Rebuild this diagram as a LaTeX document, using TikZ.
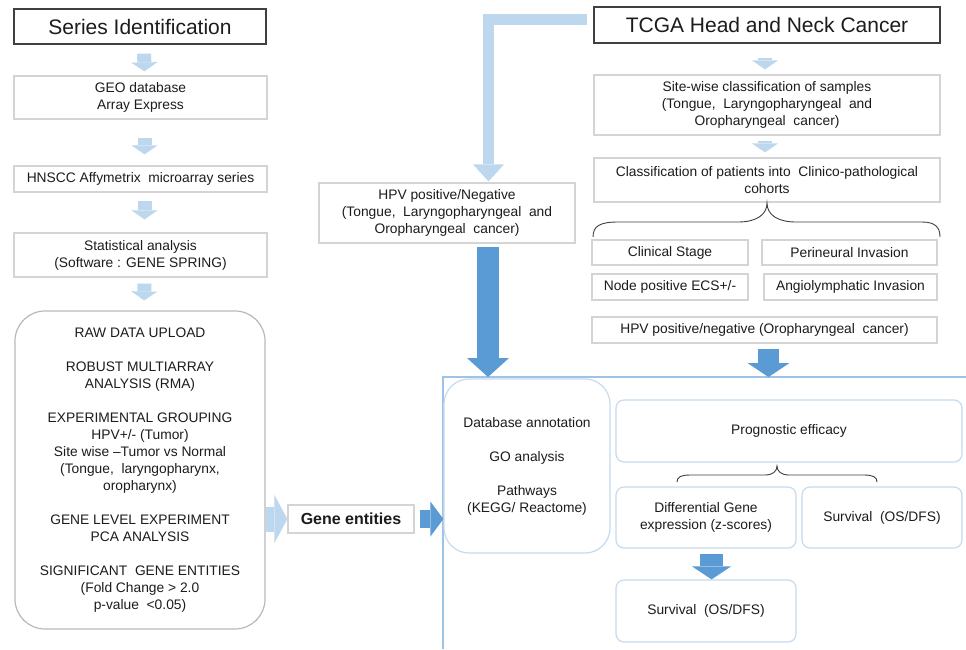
\documentclass[tikz,border=0pt]{standalone}
\usepackage{fontspec}
\setmainfont{Liberation Sans}
\usetikzlibrary{arrows.meta}
\definecolor{lbl}{HTML}{BDD7EE}
\definecolor{dbl}{HTML}{5B9BD5}
\definecolor{frm}{HTML}{9DC3E6}
\definecolor{bbl}{HTML}{C5DBEF}
\definecolor{gbd}{HTML}{D4D4D4}
\definecolor{txt}{HTML}{1C1C1C}
\begin{document}
\begin{tikzpicture}[x=1pt,y=-1pt,
  every node/.style={text=txt, font=\fontsize{13.8}{17}\selectfont, align=center, inner sep=0pt},
  gbox/.style={draw=gbd, line width=1.2pt, fill=white},
  tbox/.style={draw=black!75, line width=1.3pt, fill=white, font=\fontsize{21}{25}\selectfont},
  bbox/.style={draw=bbl, line width=1.2pt, fill=white, rounded corners=8pt},
  lbarrow/.style={draw=lbl, line width=14pt, -{Triangle[width=26pt,length=9pt,line width=0pt]}},
  brc/.style={draw=black!75, line width=0.9pt}
]
\useasboundingbox (0,0) rectangle (966,649);
\fill[white] (0,0) rectangle (966,649);

% frame of the right section
\coordinate (frameTL) at (443,377);
\draw[frm, line width=1.5pt] (443,649) -- (frameTL) -- (966,377);

% left column
\node[tbox, minimum width=252pt, minimum height=35pt] (series) at (140,26.5) {Series Identification};
\node[gbox, minimum width=253pt, minimum height=43pt] (geo) at (140.5,97.5) {GEO database\\Array Express};
\node[gbox, minimum width=253pt, minimum height=26pt] (hnscc) at (140.5,179) {HNSCC Affymetrix\ \ microarray series};
\node[gbox, minimum width=253pt, minimum height=44pt] (stat) at (140.5,255) {Statistical analysis\\(Software : GENE SPRING)};
\node[draw=gray!55, line width=1.2pt, rounded corners=30pt, minimum width=250pt, minimum height=318pt] (raw) at (140,470)
 {RAW DATA UPLOAD\\[17pt]
  ROBUST MULTIARRAY\\ANALYSIS (RMA)\\[17pt]
  EXPERIMENTAL GROUPING\\HPV+/- (Tumor)\\Site wise –Tumor vs Normal\\(Tongue,\ \ laryngopharynx,\\oropharynx)\\[17pt]
  GENE LEVEL EXPERIMENT\\PCA ANALYSIS\\[17pt]
  SIGNIFICANT\ \ GENE ENTITIES\\(Fold Change > 2.0\\p-value\ \ <0.05)};
\node[gbox, minimum width=126pt, minimum height=28pt, font=\fontsize{16}{19}\selectfont\bfseries] (gene) at (351,519) {Gene entities};

% HPV middle box
\node[gbox, minimum width=256pt, minimum height=60pt] (hpv) at (447,213) {HPV positive/Negative\\(Tongue,\ \ Laryngopharyngeal\ \ and\\Oropharyngeal\ \ cancer)};

% right column
\node[tbox, minimum width=346pt, minimum height=36pt] (tcga) at (767,25) {TCGA Head and Neck Cancer};
\node[gbox, minimum width=346pt, minimum height=60pt] (site) at (767,105) {Site-wise classification of samples\\(Tongue,\ \ Laryngopharyngeal\ \ and\\Oropharyngeal\ \ cancer)};
\node[gbox, minimum width=346pt, minimum height=44pt] (class) at (767,180) {Classification of patients into\ \ Clinico-pathological\\cohorts};
\node[gbox, minimum width=156pt, minimum height=25pt] (clin) at (670,252.5) {Clinical Stage};
\node[gbox, minimum width=175pt, minimum height=25pt] (peri) at (849.5,252.5) {Perineural Invasion};
\node[gbox, minimum width=156pt, minimum height=26pt] (nodep) at (670,287) {Node positive ECS+/-};
\node[gbox, minimum width=173pt, minimum height=26pt] (angio) at (850.5,287) {Angiolymphatic Invasion};
\node[gbox, minimum width=345pt, minimum height=26pt] (hpvo) at (764.5,330) {HPV positive/negative (Oropharyngeal\ \ cancer)};

% bottom right section
\node[bbox, rounded corners=25pt, minimum width=166pt, minimum height=174pt] (db) at (527,466)
 {Database annotation\\[17pt]GO analysis\\[17pt]Pathways\\(KEGG/ Reactome)};
\node[bbox, minimum width=346pt, minimum height=62pt] (prog) at (789,431) {Prognostic efficacy};
\node[bbox, minimum width=180pt, minimum height=61pt] (diff) at (706,517.5) {Differential Gene\\expression (z-scores)};
\node[bbox, minimum width=160pt, minimum height=61pt] (surva) at (882,517.5) {Survival\ \ (OS/DFS)};
\node[bbox, minimum width=180pt, minimum height=62pt] (survb) at (706,611) {Survival\ \ (OS/DFS)};

% braces
\draw[brc] (593,237) .. controls (593,226) and (600,222) .. (618,222) -- (738,222)
  .. controls (756,222) and (767,215) .. (767,203)
  .. controls (767,215) and (778,222) .. (796,222) -- (922,222)
  .. controls (936,222) and (940,228) .. (940,237);
\draw[brc] (677,482) .. controls (677,477) and (681,475) .. (690,475) -- (765,475)
  .. controls (773,475) and (777,471) .. (777,466)
  .. controls (777,471) and (781,475) .. (789,475) -- (864,475)
  .. controls (873,475) and (877,477) .. (877,482);

% light blue arrows, left column
\draw[lbarrow, shorten <=9pt, shorten >=4pt] ([xshift=4pt]series.south) -- ([xshift=4pt]geo.north);
\draw[lbarrow, shorten <=18pt, shorten >=11pt] ([xshift=4pt]geo.south) -- ([xshift=4pt]hnscc.north);
\draw[lbarrow, shorten <=8pt, shorten >=13pt] ([xshift=4pt]hnscc.south) -- ([xshift=4pt]stat.north);
\draw[lbarrow, shorten <=6pt, shorten >=10pt] ([xshift=4pt]stat.south) -- ([xshift=4pt]raw.north);
% right column
\draw[lbarrow, shorten <=14pt, shorten >=5pt] ([xshift=-2pt]tcga.south) -- ([xshift=-2pt]site.north);
\draw[lbarrow, shorten <=5pt, shorten >=5pt] ([xshift=-2pt]site.south) -- ([xshift=-2pt]class.north);

% raw -> gene entities
\draw[draw=lbl, line width=25pt, -{Triangle[width=48pt,length=13pt,line width=0pt]}] (raw.east |- gene.west) -- (gene.west);
% gene entities -> database box
\draw[draw=dbl, line width=18pt, -{Triangle[width=35pt,length=13pt,line width=0pt]}, shorten <=5pt] (gene.east) -- (gene.east -| db.west);

% L-shaped arrow from TCGA to HPV box
\draw[draw=lbl, line width=11pt, line join=miter, -{Triangle[width=31pt,length=17pt,line width=0pt]}, shorten <=6pt, shorten >=1pt]
  ([yshift=5.5pt]tcga.west) -| ([xshift=41.5pt]hpv.north);

% HPV -> frame
\coordinate (hpvout) at ([xshift=41pt]hpv.south);
\draw[draw=dbl, line width=22pt, -{Triangle[width=42pt,length=19pt,line width=0pt]}, shorten <=3pt] (hpvout) -- (hpvout |- frameTL);
% HPV oropharyngeal -> frame
\coordinate (hpvoout) at ([xshift=4pt]hpvo.south);
\draw[draw=dbl, line width=21pt, -{Triangle[width=42pt,length=14pt,line width=0pt]}, shorten <=5pt] (hpvoout) -- (hpvoout |- frameTL);
% differential -> survival
\draw[draw=dbl, line width=23pt, -{Triangle[width=39pt,length=13pt,line width=0pt]}, shorten <=5pt] ([xshift=5.5pt]diff.south) -- ([xshift=5.5pt]survb.north);
\end{tikzpicture}
\end{document}
